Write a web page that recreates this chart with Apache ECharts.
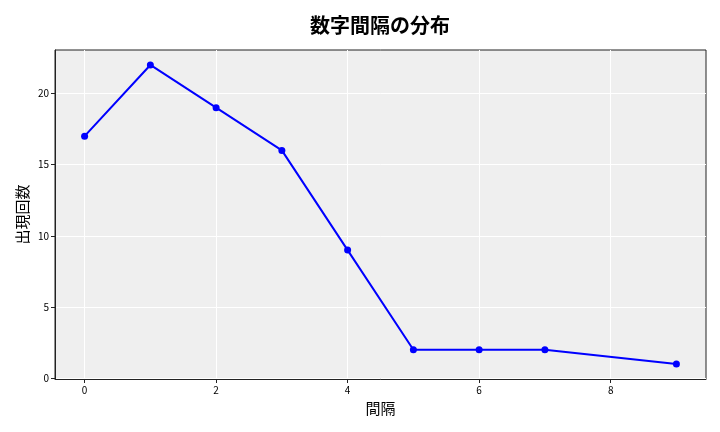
<!DOCTYPE html>
<html><head><meta charset="utf-8">
<script src="https://cdn.jsdelivr.net/npm/echarts@6/dist/echarts.min.js"></script>
<style>html,body{margin:0;padding:0;background:#fff}#c{width:720px;height:432px}</style>
</head><body><div id="c"></div>
<script>
const xValues = [0, 1, 2, 3, 4, 5, 6, 7, 9];
const counts = [17, 22, 19, 16, 9, 2, 2, 2, 1];
const xTicks = [0, 2, 4, 6, 8];
const yTicks = [0, 5, 10, 15, 20];
const titleText = '数字間隔の分布';
const xName = '間隔';
const yName = '出現回数';

const font = '"Noto Sans CJK JP", "DejaVu Sans", sans-serif';
const chart = echarts.init(document.getElementById('c'));
chart.setOption({
  animation: false,
  title: { text: titleText, left: 375, top: 10, textAlign: 'center',
    textStyle: { fontFamily: font, fontSize: 20, fontWeight: 'bold', color: '#000' } },
  grid: { left: 55, right: 14, top: 50, bottom: 53, containLabel: false,
    show: true, backgroundColor: '#efefef', borderColor: '#222', borderWidth: 1 },
  xAxis: {
    type: 'value', min: -0.45, max: 9.45,
    name: xName, nameLocation: 'middle', nameGap: 22,
    nameTextStyle: { fontFamily: font, fontSize: 15, color: '#000' },
    axisLine: { show: true, onZero: false, lineStyle: { color: '#222' } },
    axisTick: { show: true, customValues: xTicks, length: 4, lineStyle: { color: '#222' } },
    axisLabel: { customValues: xTicks, fontFamily: font, fontSize: 10, color: '#000', margin: 6 },
    splitLine: { show: true, lineStyle: { color: '#fff', width: 1 } }
  },
  yAxis: {
    type: 'value', min: -0.05, max: 23.05,
    name: yName, nameLocation: 'middle', nameGap: 25, nameRotate: 90, nameMoveOverlap: false,
    nameTextStyle: { fontFamily: font, fontSize: 15, color: '#000' },
    axisLine: { show: true, onZero: false, lineStyle: { color: '#222' } },
    axisTick: { show: true, customValues: yTicks, length: 4, lineStyle: { color: '#222' } },
    axisLabel: { customValues: yTicks, fontFamily: font, fontSize: 10, color: '#000', margin: 6 },
    splitLine: { show: true, lineStyle: { color: '#fff', width: 1 } }
  },
  series: [{
    type: 'line',
    data: xValues.map((x, i) => [x, counts[i]]),
    symbol: 'circle', symbolSize: 7,
    lineStyle: { color: '#0000ff', width: 2 },
    itemStyle: { color: '#0000ff' }
  }]
});
</script></body></html>
